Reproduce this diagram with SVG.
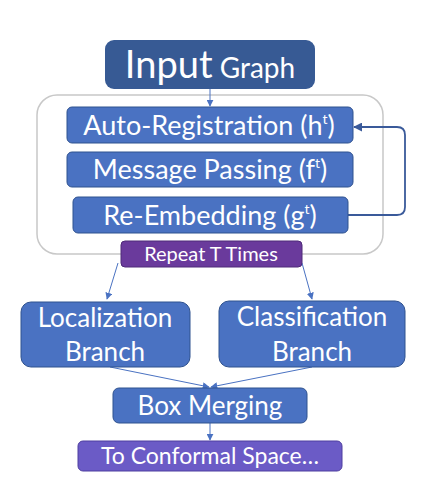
<svg xmlns="http://www.w3.org/2000/svg" width="446" height="486" viewBox="0 0 446 486">
<defs>
<style>
.t{font-family:Lato,"Liberation Sans",sans-serif;fill:#fff;text-anchor:middle}
.b{fill:#4A72C2;stroke:#2F528F;stroke-width:1}
.c{fill:none;stroke:#4A72C2;stroke-width:1}
.fb{fill:none;stroke:#3A5A9A;stroke-width:1.8}
</style>
<marker id="ah" viewBox="0 0 10 10" refX="9" refY="5" markerWidth="7" markerHeight="7" markerUnits="userSpaceOnUse" orient="auto"><path d="M0,0 L10,5 L0,10 z" fill="#4A72C2"/></marker>
<marker id="ah2" viewBox="0 0 10 10" refX="9" refY="5" markerWidth="9" markerHeight="9" markerUnits="userSpaceOnUse" orient="auto"><path d="M0,0 L10,5 L0,10 z" fill="#3A5A9A"/></marker>
</defs>
<rect width="446" height="486" fill="#fff"/>
<g id="container"><rect x="37" y="95" width="346" height="159" rx="20" fill="none" stroke="#C8C8C8" stroke-width="1.5"/></g>
<g id="connectors">
<line class="c" x1="210" y1="89" x2="210" y2="106" marker-end="url(#ah)"/>
<line class="c" x1="118" y1="263" x2="107" y2="299" marker-end="url(#ah)"/>
<line class="c" x1="302" y1="263" x2="312" y2="299" marker-end="url(#ah)"/>
<line class="c" x1="110" y1="367" x2="209" y2="387" marker-end="url(#ah)"/>
<line class="c" x1="312" y1="367" x2="211" y2="387" marker-end="url(#ah)"/>
<line class="c" x1="210" y1="423" x2="210" y2="440" marker-end="url(#ah)"/>
<path class="fb" d="M348,215 H397 Q405,215 405,207 V135 Q405,127 397,127 H354" marker-end="url(#ah2)"/>
</g>
<g id="input"><rect x="105" y="40" width="210" height="49" rx="9" fill="#375A94"/><text class="t" x="210" y="78"><tspan font-size="38">Input</tspan><tspan font-size="28"> Graph</tspan></text></g>
<g id="autoreg"><rect class="b" x="67" y="107" width="286" height="36" rx="5"/><text class="t" x="209" y="135" font-size="27">Auto-Registration (h<tspan font-size="14" dy="-11">t</tspan><tspan dy="11">)</tspan></text></g>
<g id="msg"><rect class="b" x="67" y="152" width="286" height="35" rx="5"/><text class="t" x="210" y="179" font-size="27">Message Passing (f<tspan font-size="14" dy="-11">t</tspan><tspan dy="11">)</tspan></text></g>
<g id="reemb"><rect class="b" x="73" y="197" width="275" height="36" rx="5"/><text class="t" x="210" y="225" font-size="27">Re-Embedding (g<tspan font-size="14" dy="-11">t</tspan><tspan dy="11">)</tspan></text></g>
<g id="repeat"><rect x="121" y="241" width="181" height="26" rx="4" fill="#6A3A9C" stroke="#4E2A78" stroke-width="1"/><text class="t" x="211" y="261" font-size="20">Repeat T Times</text></g>
<g id="loc"><rect class="b" x="21" y="302" width="169" height="65" rx="10"/><text class="t" x="105" y="327" font-size="26">Localization</text><text class="t" x="105" y="361" font-size="26">Branch</text></g>
<g id="cls"><rect class="b" x="219" y="301" width="186" height="66" rx="10"/><text class="t" x="312" y="326" font-size="26">Classification</text><text class="t" x="312" y="361" font-size="26">Branch</text></g>
<g id="merge"><rect class="b" x="113" y="388" width="194" height="35" rx="6"/><text class="t" x="210" y="415" font-size="26">Box Merging</text></g>
<g id="conformal"><rect x="78" y="441" width="264" height="30" rx="5" fill="#6B5BC6" stroke="#4F3FA0" stroke-width="1"/><text class="t" x="210" y="464" font-size="23">To Conformal Space…</text></g>
</svg>
